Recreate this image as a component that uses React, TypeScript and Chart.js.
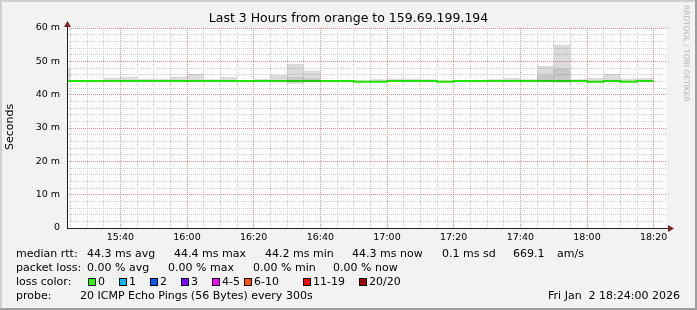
import React, { useEffect, useRef } from "react";
import { Chart, registerables } from "chart.js";
Chart.register(...registerables);

// ---- data (5-minute bins, value in ms) ----
const binStarts = [
  "15:20", "15:25", "15:30", "15:35", "15:40", "15:45", "15:50", "15:55",
  "16:00", "16:05", "16:10", "16:15", "16:20", "16:25", "16:30", "16:35",
  "16:40", "16:45", "16:50", "16:55", "17:00", "17:05", "17:10", "17:15",
  "17:20", "17:25", "17:30", "17:35", "17:40", "17:45", "17:50", "17:55",
  "18:00", "18:05", "18:10", "18:15",
];
const lastBinEnd = "18:20";
const windowStart = "15:24";
const windowEnd = "18:24";

const medianMs = [
  44.1, 44.1, 44.1, 44.1, 44.1, 44.1, 44.1, 44.1,
  44.1, 44.1, 44.1, 44.1, 44.1, 44.1, 44.1, 44.1,
  44.1, 44.1, 43.9, 43.9, 44.1, 44.1, 44.1, 43.9,
  44.1, 44.1, 44.1, 44.1, 44.1, 44.1, 44.1, 44.1,
  43.9, 44.1, 43.9, 44.1,
];
const smokeMaxMs = [
  47.6, 44.3, 44.3, 45.1, 45.4, 44.8, 44.8, 45.4,
  46.2, 44.6, 45.3, 44.3, 44.7, 45.9, 49.2, 47.2,
  44.3, 44.3, 44.3, 44.6, 44.8, 44.8, 44.6, 44.3,
  44.3, 44.3, 44.6, 45.0, 44.6, 48.6, 55.0, 44.6,
  45.0, 46.2, 44.8, 45.0,
];
const smokeMinMs = [
  43.9, 43.9, 43.9, 43.9, 43.9, 43.9, 43.9, 43.9,
  43.9, 43.9, 43.9, 43.9, 43.9, 43.7, 43.3, 43.8,
  43.9, 43.9, 43.7, 43.7, 43.9, 43.9, 43.9, 43.7,
  43.9, 43.9, 43.9, 43.9, 43.9, 43.8, 43.6, 43.9,
  43.6, 43.8, 43.7, 43.9,
];
const coreMaxMs = [
  44.1, 44.1, 44.1, 44.1, 44.1, 44.1, 44.1, 44.1,
  44.1, 44.1, 44.1, 44.1, 44.1, 44.1, 45.3, 44.9,
  44.1, 44.1, 43.9, 43.9, 44.1, 44.1, 44.1, 43.9,
  44.1, 44.1, 44.1, 44.1, 44.1, 45.9, 47.8, 44.1,
  43.9, 44.1, 43.9, 44.1,
];
const coreMinMs = [
  44.1, 44.1, 44.1, 44.1, 44.1, 44.1, 44.1, 44.1,
  44.1, 44.1, 44.1, 44.1, 44.1, 44.1, 43.7, 43.9,
  44.1, 44.1, 43.9, 43.9, 44.1, 44.1, 44.1, 43.9,
  44.1, 44.1, 44.1, 44.1, 44.1, 43.9, 43.8, 44.1,
  43.9, 44.1, 43.9, 44.1,
];

const xTickLabels = ["15:40", "16:00", "16:20", "16:40", "17:00", "17:20", "17:40", "18:00", "18:20"];
const yTickLabels = ["0", "10 m", "20 m", "30 m", "40 m", "50 m", "60 m"];
const yTickValues = [0, 10, 20, 30, 40, 50, 60];

const titleText = "Last 3 Hours from orange to 159.69.199.194";
const yAxisTitle = "Seconds";
const rttStats = ["44.3 ms avg", "44.4 ms max", "44.2 ms min", "44.3 ms now", "0.1 ms sd", "669.1", "am/s"];
const lossStats = ["0.00 % avg", "0.00 % max", "0.00 % min", "0.00 % now"];
const lossLabels = ["0", "1", "2", "3", "4-5", "6-10", "11-19", "20/20"];
const lossColors = ["#26ff00", "#00b8ff", "#0059ff", "#7e00ff", "#ff00ff", "#ff5500", "#ff0000", "#a10000"];
const probeText = "20 ICMP Echo Pings (56 Bytes) every 300s";
const dateText = "Fri Jan  2 18:24:00 2026";
const watermark = "RRDTOOL / TOBI OETIKER";

// minutes since 15:00
const toMin = (s: string) => {
  const [h, m] = s.split(":").map(Number);
  return h * 60 + m - 900;
};
const toPts = (arr: number[]) => {
  const pts = binStarts.map((t, i) => ({ x: toMin(t), y: arr[i] }));
  pts.push({ x: toMin(lastBinEnd), y: arr[arr.length - 1] });
  return pts;
};

const FONT = '"DejaVu Sans", sans-serif';
const MAJOR = "rgb(236,140,140)";
const MINOR = "rgb(205,205,205)";

const decoPlugin = {
  id: "deco",
  beforeDraw(chart: any) {
    const { ctx, chartArea: a, width: W, height: H } = chart;
    ctx.save();
    ctx.fillStyle = "#f2f2f2";
    ctx.fillRect(0, 0, W, H);
    ctx.fillStyle = "#cfcfcf";
    ctx.fillRect(0, 0, W, 2);
    ctx.fillRect(0, 0, 2, H);
    ctx.fillStyle = "#9e9e9e";
    ctx.fillRect(0, H - 2, W, 2);
    ctx.fillRect(W - 2, 0, 2, H);
    ctx.fillStyle = "#ffffff";
    ctx.fillRect(a.left, a.top, a.right - a.left, a.bottom - a.top);
    ctx.restore();
  },
  afterDraw(chart: any) {
    const { ctx, chartArea: a, width: W } = chart;
    ctx.save();
    // axes
    ctx.strokeStyle = "#1f1f1f";
    ctx.lineWidth = 1;
    ctx.beginPath();
    ctx.moveTo(a.left + 0.5, a.bottom + 0.5);
    ctx.lineTo(a.left + 0.5, a.top - 4);
    ctx.moveTo(a.left, a.bottom + 0.5);
    ctx.lineTo(a.right + 4, a.bottom + 0.5);
    ctx.stroke();
    // arrows
    ctx.fillStyle = "#801f1f";
    ctx.beginPath();
    ctx.moveTo(a.left + 0.5, a.top - 7);
    ctx.lineTo(a.left - 3, a.top - 1);
    ctx.lineTo(a.left + 4, a.top - 1);
    ctx.closePath();
    ctx.fill();
    ctx.beginPath();
    ctx.moveTo(a.right + 7, a.bottom + 0.5);
    ctx.lineTo(a.right + 1, a.bottom - 3);
    ctx.lineTo(a.right + 1, a.bottom + 4);
    ctx.closePath();
    ctx.fill();

    // title
    ctx.fillStyle = "#000";
    ctx.textBaseline = "middle";
    ctx.textAlign = "center";
    ctx.font = `12.5px ${FONT}`;
    ctx.fillText(titleText, W / 2, 19);

    // y axis title
    ctx.font = `11px ${FONT}`;
    ctx.save();
    ctx.translate(10, 127);
    ctx.rotate(-Math.PI / 2);
    ctx.fillText(yAxisTitle, 0, 0);
    ctx.restore();

    // watermark
    ctx.save();
    ctx.fillStyle = "#b4b4b4";
    ctx.font = `7.5px ${FONT}`;
    ctx.translate(686, 5);
    ctx.rotate(Math.PI / 2);
    ctx.textAlign = "left";
    ctx.fillText(watermark, 0, 0);
    ctx.restore();

    // legend
    ctx.textAlign = "left";
    ctx.font = `11px ${FONT}`;
    const r1 = 254, r2 = 268, r3 = 282, r4 = 296;
    ctx.fillText("median rtt:", 16, r1);
    const rttX = [87, 174, 265, 352, 442, 513, 557];
    rttStats.forEach((s, i) => ctx.fillText(s, rttX[i], r1));
    ctx.fillText("packet loss:", 16, r2);
    const lossX = [87, 168, 253, 333];
    lossStats.forEach((s, i) => ctx.fillText(s, lossX[i], r2));
    ctx.fillText("loss color:", 16, r3);
    const boxX = [88, 119, 150, 181, 212, 244, 303, 359];
    lossLabels.forEach((s, i) => {
      ctx.fillStyle = lossColors[i];
      ctx.fillRect(boxX[i], 278, 8, 8);
      ctx.strokeStyle = "#000";
      ctx.lineWidth = 1;
      ctx.strokeRect(boxX[i] + 0.5, 278.5, 7, 7);
      ctx.fillStyle = "#000";
      ctx.fillText(s, boxX[i] + 10, r3);
    });
    ctx.fillText("probe:", 16, r4);
    ctx.fillText(probeText, 80, r4);
    ctx.textAlign = "right";
    ctx.fillText(dateText, 680, r4);
    ctx.restore();
  },
};

export default function App() {
  const ref = useRef<HTMLCanvasElement>(null);
  useEffect(() => {
    document.body.style.margin = "0";
    const canvas = ref.current!;
    const step = (arr: number[], extra: any) => ({
      data: toPts(arr),
      stepped: true,
      pointRadius: 0,
      borderColor: "transparent",
      borderWidth: 1,
      xAxisID: "x",
      yAxisID: "y",
      ...extra,
    });
    const xMin = toMin(windowStart);
    const xMax = toMin(windowEnd);
    const chart = new Chart(canvas, {
      type: "line",
      data: {
        datasets: [
          step(smokeMaxMs, { label: "smoke max", fill: "+1", backgroundColor: "rgba(0,0,0,0.14)" }),
          step(smokeMinMs, { label: "smoke min", fill: false }),
          step(coreMaxMs, { label: "core max", fill: "+1", backgroundColor: "rgba(0,0,0,0.085)" }),
          step(coreMinMs, { label: "core min", fill: false }),
          step(medianMs, { label: "median", fill: false, borderColor: "#26ff00", borderWidth: 2 }),
        ],
      },
      options: {
        animation: false,
        responsive: false,
        devicePixelRatio: 1,
        layout: { padding: { left: 0, right: 30, top: 28, bottom: 62 } },
        plugins: { legend: { display: false }, tooltip: { enabled: false }, title: { display: false } },
        events: [],
        scales: {
          xMinor: {
            type: "linear",
            position: "bottom",
            min: xMin,
            max: xMax,
            weight: 1,
            afterBuildTicks: (scale: any) => {
              const ticks = [];
              for (let v = toMin(binStarts[1]); v <= scale.max; v += 5) ticks.push({ value: v });
              scale.ticks = ticks;
            },
            afterFit: (scale: any) => {
              scale.height = 0;
            },
            ticks: { display: false, autoSkip: false },
            grid: { drawTicks: false, lineWidth: 1, color: MINOR },
            border: { display: false, dash: [1, 1] },
          },
          yMinor: {
            type: "linear",
            position: "left",
            min: 0,
            max: 60,
            weight: 1,
            afterBuildTicks: (scale: any) => {
              const ticks = [];
              for (let v = 0; v <= 60; v += 2) ticks.push({ value: v });
              scale.ticks = ticks;
            },
            afterFit: (scale: any) => {
              scale.width = 0;
            },
            ticks: { display: false, autoSkip: false },
            grid: { drawTicks: false, lineWidth: 1, color: MINOR },
            border: { display: false, dash: [1, 1] },
          },
          x: {
            type: "linear",
            position: "bottom",
            min: xMin,
            max: xMax,
            weight: 0,
            afterBuildTicks: (scale: any) => {
              scale.ticks = xTickLabels.map((s) => ({ value: toMin(s), label: s }));
            },
            afterFit: (scale: any) => {
              scale.height = 20;
            },
            ticks: {
              autoSkip: false,
              maxRotation: 0,
              padding: 4,
              color: "#000",
              font: { family: FONT, size: 9.5 },
              callback: (_v: any, i: number) => xTickLabels[i],
            },
            grid: { drawTicks: false, lineWidth: 1, color: MAJOR },
            border: { display: false, dash: [1, 1] },
          },
          y: {
            type: "linear",
            position: "left",
            min: 0,
            max: 60,
            weight: 0,
            afterBuildTicks: (scale: any) => {
              scale.ticks = yTickValues.map((v) => ({ value: v }));
            },
            afterFit: (scale: any) => {
              scale.width = 67;
            },
            ticks: {
              autoSkip: false,
              padding: 7,
              color: "#000",
              font: { family: FONT, size: 9.5 },
              callback: (_v: any, i: number) => yTickLabels[i],
            },
            grid: { drawTicks: false, lineWidth: 1, color: MAJOR },
            border: { display: false, dash: [1, 1] },
          },
        },
      },
      plugins: [decoPlugin],
    });
    return () => chart.destroy();
  }, []);
  return <canvas ref={ref} width={697} height={310} style={{ display: "block" }} />;
}
